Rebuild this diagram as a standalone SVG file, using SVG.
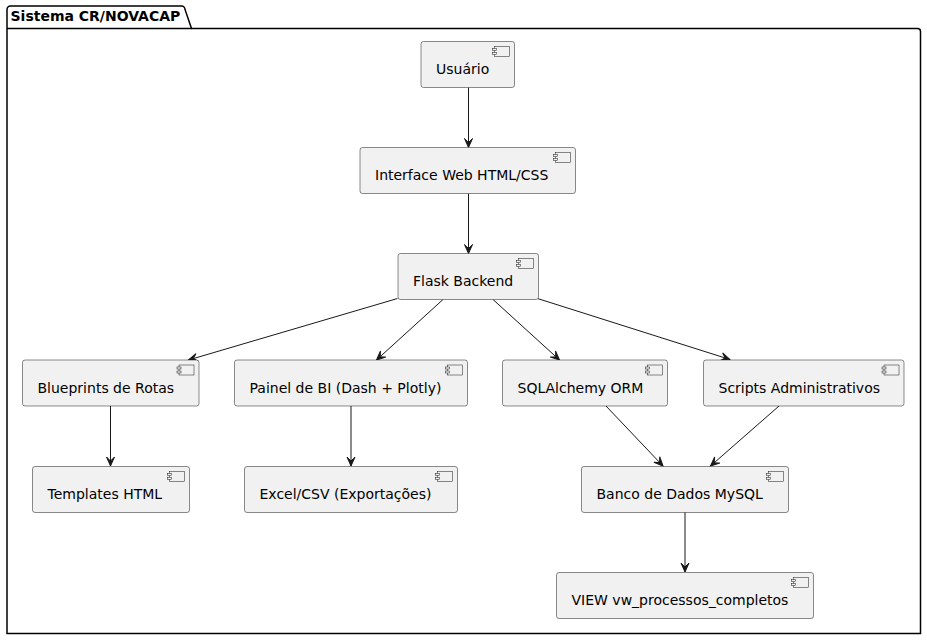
<svg xmlns="http://www.w3.org/2000/svg" width="927" height="640" viewBox="0 0 927 640">
<style>
.box{fill:#F1F1F1;stroke:#181818;stroke-width:0.5}
.ic{fill:#F1F1F1;stroke:#181818;stroke-width:0.5}
.lbl{font-family:"DejaVu Sans",sans-serif;font-size:14px;fill:#000000}
.edge{stroke:#181818;stroke-width:1;fill:none}
.pkg{fill:none;stroke:#000000;stroke-width:1.5}
.ttl{font-family:"DejaVu Sans",sans-serif;font-size:14px;font-weight:bold;fill:#000000}
</style>
<defs>
<marker id="arr" viewBox="-10 -5 11 10" markerWidth="11" markerHeight="10" refX="0" refY="0" orient="auto" markerUnits="userSpaceOnUse">
<path d="M0,0 L-9,-4 L-5,0 L-9,4 Z" fill="#181818" stroke="#181818" stroke-width="1"/>
</marker>
<g id="icon">
<rect class="ic" x="-20" y="5" width="15" height="10"/>
<rect class="ic" x="-22" y="7" width="4" height="2"/>
<rect class="ic" x="-22" y="11" width="4" height="2"/>
</g>
</defs>
<rect width="927" height="640" fill="#FFFFFF"/>
<g id="package">
<path class="pkg" d="M7,28.5 L7,9.5 A3.5,3.5 0 0 1 10.5,6 L181.5,6 A3.5,3.5 0 0 1 185,9.5 L191.5,28.5 L917.5,28.5 A3,3 0 0 1 920.5,31.5 L920.5,633.5 L7,633.5 Z"/>
<line class="pkg" x1="7" y1="28.5" x2="191.5" y2="28.5"/>
<text class="ttl" x="10.5" y="21">Sistema CR/NOVACAP</text>
</g>
<g id="connectors">
<line class="edge" x1="468.5" y1="87.5" x2="468.5" y2="147.5" marker-end="url(#arr)"/>
<line class="edge" x1="468.5" y1="193.5" x2="468.5" y2="253.5" marker-end="url(#arr)"/>
<line class="edge" x1="397.5" y1="298.5" x2="188.5" y2="360" marker-end="url(#arr)"/>
<line class="edge" x1="443" y1="299.5" x2="376.5" y2="360" marker-end="url(#arr)"/>
<line class="edge" x1="493" y1="299.5" x2="559.5" y2="360" marker-end="url(#arr)"/>
<line class="edge" x1="537.5" y1="298.5" x2="730" y2="359.5" marker-end="url(#arr)"/>
<line class="edge" x1="110.5" y1="406" x2="110.5" y2="466" marker-end="url(#arr)"/>
<line class="edge" x1="351" y1="406" x2="351" y2="466" marker-end="url(#arr)"/>
<line class="edge" x1="606" y1="406" x2="663" y2="466" marker-end="url(#arr)"/>
<line class="edge" x1="779" y1="406" x2="710.5" y2="466" marker-end="url(#arr)"/>
<line class="edge" x1="685" y1="512" x2="685" y2="572" marker-end="url(#arr)"/>
</g>
<g id="usuario">
<rect class="box" x="421" y="41.5" width="93.5" height="46" rx="2.5"/>
<use href="#icon" x="514.5" y="41.5"/>
<text class="lbl" x="436" y="73.5">Usuário</text>
</g>
<g id="interface">
<rect class="box" x="360" y="147.5" width="215.5" height="46" rx="2.5"/>
<use href="#icon" x="575.5" y="147.5"/>
<text class="lbl" x="375" y="180">Interface Web HTML/CSS</text>
</g>
<g id="flask">
<rect class="box" x="398" y="253.5" width="140.5" height="46" rx="2.5"/>
<use href="#icon" x="538.5" y="253.5"/>
<text class="lbl" x="413" y="286">Flask Backend</text>
</g>
<g id="blueprints">
<rect class="box" x="22.5" y="360" width="176.5" height="46" rx="2.5"/>
<use href="#icon" x="199" y="360"/>
<text class="lbl" x="37.5" y="392.5">Blueprints de Rotas</text>
</g>
<g id="painel">
<rect class="box" x="234.5" y="360" width="233" height="46" rx="2.5"/>
<use href="#icon" x="467.5" y="360"/>
<text class="lbl" x="249.5" y="392.5">Painel de BI (Dash + Plotly)</text>
</g>
<g id="sqlalchemy">
<rect class="box" x="502.5" y="360" width="165" height="46" rx="2.5"/>
<use href="#icon" x="667.5" y="360"/>
<text class="lbl" x="517.5" y="392.5">SQLAlchemy ORM</text>
</g>
<g id="scripts">
<rect class="box" x="703.5" y="360" width="200.5" height="46" rx="2.5"/>
<use href="#icon" x="904" y="360"/>
<text class="lbl" x="718.5" y="392.5">Scripts Administrativos</text>
</g>
<g id="templates">
<rect class="box" x="32.5" y="466.5" width="157" height="46" rx="2.5"/>
<use href="#icon" x="189.5" y="466.5"/>
<text class="lbl" x="47.5" y="499">Templates HTML</text>
</g>
<g id="excel">
<rect class="box" x="244.5" y="466.5" width="213" height="46" rx="2.5"/>
<use href="#icon" x="457.5" y="466.5"/>
<text class="lbl" x="259.5" y="499">Excel/CSV (Exportações)</text>
</g>
<g id="banco">
<rect class="box" x="581.5" y="466.5" width="207" height="46" rx="2.5"/>
<use href="#icon" x="788.5" y="466.5"/>
<text class="lbl" x="596.5" y="499">Banco de Dados MySQL</text>
</g>
<g id="view">
<rect class="box" x="556.5" y="572.5" width="257" height="46" rx="2.5"/>
<use href="#icon" x="813.5" y="572.5"/>
<text class="lbl" x="571.5" y="605">VIEW vw_processos_completos</text>
</g>
</svg>
